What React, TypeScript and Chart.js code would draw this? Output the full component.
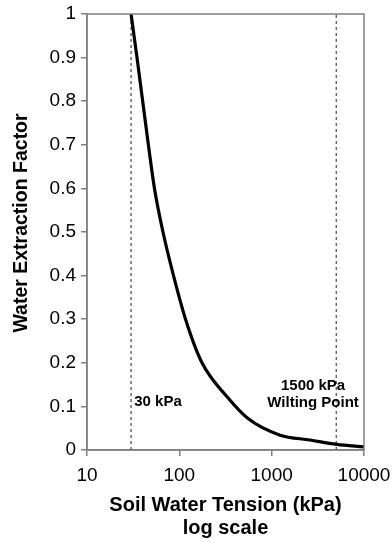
import React, { useEffect, useRef } from "react";
import { Chart, registerables } from "chart.js";

Chart.register(...registerables);

const tensionKPa = [30, 34.8, 40.1, 46.2, 53.8, 66.5, 86.5, 116.7, 176, 329, 555, 1233, 2605, 5070, 10000];
const extractionFactor = [1, 0.9, 0.8, 0.7, 0.6, 0.5, 0.4, 0.3, 0.2, 0.122, 0.072, 0.034, 0.023, 0.013, 0.007];
const fieldCapacityX = 30;
const wiltingLineX = 5000;
const xTicks = [10, 100, 1000, 10000];
const yTickStep = 0.1;
const yTitle = "Water Extraction Factor";
const xTitle = ["Soil Water Tension (kPa)", "log scale"];
const annotations = [
  { text: "30 kPa", x: 32.5, y: 0.111, align: "left" },
  { text: "1500 kPa", x: 2810, y: 0.147, align: "center" },
  { text: "Wilting Point", x: 2810, y: 0.108, align: "center" },
];

const FONT = "'Liberation Sans', Arial, sans-serif";

export default function App() {
  const ref = useRef<HTMLCanvasElement | null>(null);
  useEffect(() => {
    document.body.style.margin = "0";
    const ctx = ref.current!.getContext("2d")!;
    const framePlugin = {
      id: "frameAndText",
      afterDatasetsDraw(chart: any) {
        const { ctx, chartArea, scales } = chart;
        ctx.save();
        ctx.strokeStyle = "#808080";
        ctx.lineWidth = 1.5;
        ctx.strokeRect(chartArea.left, chartArea.top, chartArea.right - chartArea.left, chartArea.bottom - chartArea.top);
        ctx.fillStyle = "#000";
        ctx.font = `bold 15px ${FONT}`;
        ctx.textBaseline = "middle";
        for (const a of annotations) {
          ctx.textAlign = a.align;
          ctx.fillText(a.text, scales.x.getPixelForValue(a.x), scales.y.getPixelForValue(a.y));
        }
        ctx.save();
        ctx.translate(22, (chartArea.top + chartArea.bottom) / 2 - 9);
        ctx.rotate(-Math.PI / 2);
        ctx.textAlign = "center";
        ctx.font = `bold 19.5px ${FONT}`;
        ctx.fillText(yTitle, 0, 0);
        ctx.restore();
        ctx.restore();
      },
    };
    const chart = new Chart(ctx, {
      type: "line",
      data: {
        datasets: [
          {
            data: tensionKPa.map((x, i) => ({ x, y: extractionFactor[i] })),
            borderColor: "#000",
            borderWidth: 3.2,
            pointRadius: 0,
            cubicInterpolationMode: "monotone",
            fill: false,
          },
          {
            data: [{ x: fieldCapacityX, y: 0 }, { x: fieldCapacityX, y: 1 }],
            borderColor: "#222",
            borderWidth: 1,
            borderDash: [3, 3],
            pointRadius: 0,
          },
          {
            data: [{ x: wiltingLineX, y: 0 }, { x: wiltingLineX, y: 1 }],
            borderColor: "#222",
            borderWidth: 1,
            borderDash: [3, 3],
            pointRadius: 0,
          },
        ],
      },
      options: {
        responsive: false,
        animation: false,
        layout: { padding: { left: 0, right: 28, top: 14, bottom: 0 } },
        plugins: { legend: { display: false }, tooltip: { enabled: false } },
        scales: {
          x: {
            type: "logarithmic",
            min: 10,
            max: 10000,
            afterBuildTicks: (scale: any) => {
              scale.ticks = xTicks.map((v) => ({ value: v }));
            },
            afterFit: (scale: any) => {
              scale.height = 92;
              scale.paddingLeft = 0;
              scale.paddingRight = 0;
            },
            ticks: {
              callback: (v: any) => String(v),
              font: { family: FONT, size: 19 },
              color: "#000",
              padding: 8,
              maxRotation: 0,
              autoSkip: false,
            },
            grid: { drawOnChartArea: false, drawTicks: true, tickLength: 6, color: "#808080", lineWidth: 1.5 },
            border: { color: "#808080", width: 1.5 },
            title: {
              display: true,
              text: xTitle,
              font: { family: FONT, size: 20, weight: "bold", lineHeight: 1.15 },
              color: "#000",
              padding: { top: 10, bottom: 2 },
            },
          },
          y: {
            min: 0,
            max: 1,
            afterFit: (scale: any) => {
              scale.width = 87;
              scale.paddingTop = 0;
              scale.paddingBottom = 0;
            },
            ticks: {
              stepSize: yTickStep,
              callback: (v: any) => String(Math.round(v * 10) / 10),
              font: { family: FONT, size: 19 },
              color: "#000",
              padding: 5,
            },
            grid: { drawOnChartArea: false, drawTicks: true, tickLength: 6, color: "#808080", lineWidth: 1.5 },
            border: { color: "#808080", width: 1.5 },
            title: { display: false },
          },
        },
      },
      plugins: [framePlugin],
    } as any);
    return () => chart.destroy();
  }, []);
  return (
    <div style={{ position: "absolute", left: 0, top: 0, width: 392, height: 542, background: "#fff" }}>
      <canvas ref={ref} width={392} height={542} />
    </div>
  );
}
